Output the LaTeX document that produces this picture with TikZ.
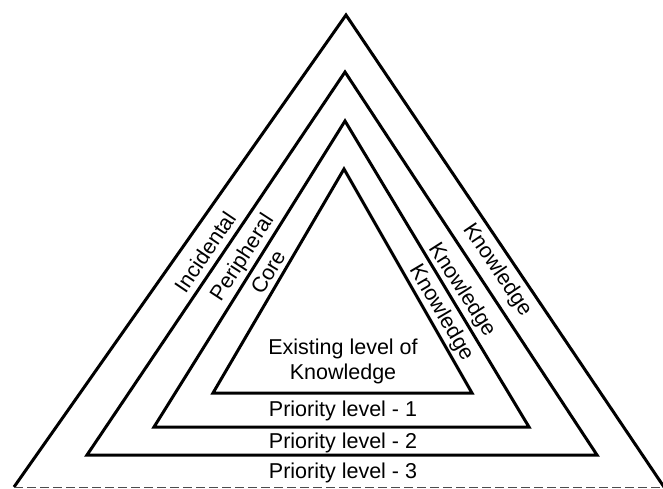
\documentclass[tikz,border=0pt]{standalone}
\usepackage{fontspec}
\setmainfont{Liberation Sans}

\begin{document}
\begin{tikzpicture}[
  x=1pt, y=-1pt,
  font=\fontsize{21.5}{25}\selectfont,
  band/.style={draw, line width=3pt, line join=miter},
  edgeline/.style={draw=black!70, line width=1.5pt, dash pattern=on 9pt off 4pt},
  lbl/.style={inner sep=0pt, align=center},
]
\useasboundingbox (0,0) rectangle (663,489);

% outer triangle, base along the lower edge
\draw[band] (14,487) -- (346,15) -- (664,487);
\draw[edgeline] (14,487.5) -- (663,487.5);

% nested triangles
\draw[band] (345,72) -- (87,455) -- (597,455) -- cycle;
\draw[band] (345,121) -- (154,427) -- (529,427) -- cycle;
\draw[band] (344,169) -- (213,393) -- (472,393) -- cycle;

% side labels
\node[lbl, rotate=56] (incidental) at (205,252) {Incidental};
\node[lbl, rotate=57] (peripheral) at (243,258) {Peripheral};
\node[lbl, rotate=59] (core) at (268,272) {Core};
\node[lbl, rotate=-56] (knowA) at (497,270) {Knowledge};
\node[lbl, rotate=-57.5] (knowB) at (462,290) {Knowledge};
\node[lbl, rotate=-59.5] (knowC) at (441,313) {Knowledge};

% bottom labels
\node[lbl] (existing) at (343,361) {Existing level of\\Knowledge};
\node[lbl] (prio1) at (343,411) {Priority level - 1};
\node[lbl] (prio2) at (343,443) {Priority level - 2};
\node[lbl] (prio3) at (343,473) {Priority level - 3};
\end{tikzpicture}
\end{document}
